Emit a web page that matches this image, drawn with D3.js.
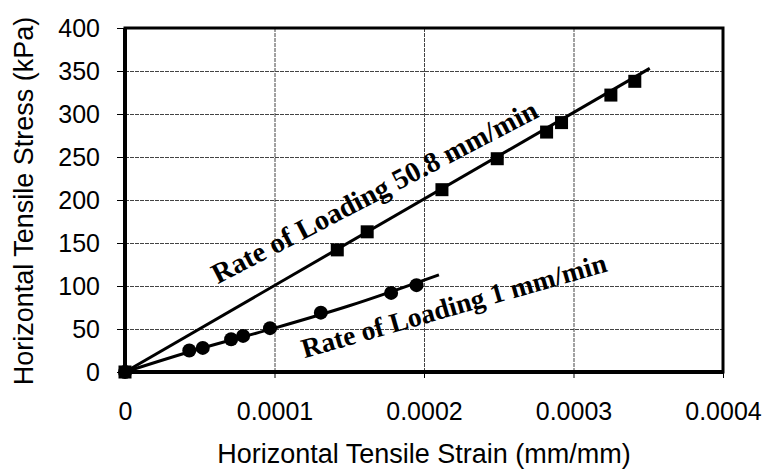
<!DOCTYPE html>
<html>
<head>
<meta charset="utf-8">
<script src="https://cdn.jsdelivr.net/npm/d3@7"></script>
<style>
    body { margin: 0; background: #fff; }
    .tick text { font-family: "Liberation Sans", Arial, sans-serif; fill: #000; }
    .axis_title { font-family: "Liberation Sans", Arial, sans-serif; font-size: 27px; fill: #000; }
    .rate_label { font-family: "Liberation Serif", "Times New Roman", serif; font-weight: bold; fill: #000; }
</style>
</head>
<body>
<div id="chart"></div>
<script>
// --- data ---
// Rate of Loading 50.8 mm/min (squares)
const strain50 = [0, 0.000142, 0.000162, 0.000212, 0.000249, 0.000282, 0.000292, 0.000325, 0.000341];
const stress50 = [0, 142, 163, 212, 248, 279, 290, 322, 338];
const lineStrain50 = [0, 0.000351];
const lineStress50 = [0, 353];

// Rate of Loading 1 mm/min (circles)
const strain1 = [0, 0.000043, 0.000052, 0.000071, 0.000079, 0.000097, 0.000131, 0.000178, 0.000195];
const stress1 = [0, 25, 28, 38, 42, 51, 69, 92, 101];
const lineStrain1 = [0, 0.00005, 0.0001, 0.00015, 0.00021];
const lineStress1 = [0, 27, 51, 77, 113];

const ticksX = [0, 0.0001, 0.0002, 0.0003, 0.0004];
const ticksY = [0, 50, 100, 150, 200, 250, 300, 350, 400];

const labelX = 'Horizontal Tensile Strain (mm/mm)';
const labelY = 'Horizontal Tensile Stress (kPa)';

// figure dimensions, margin = [top, bottom, left, right]
const width = 767, height = 474;
const margin = [28, 102, 125, 44];
const chartW = width - margin[2] - margin[3],
      chartH = height - margin[0] - margin[1];

const svg = d3.select('#chart')
    .append('svg')
    .attr('width', width)
    .attr('height', height);

const chart = svg.append('g')
    .attr('transform', `translate(${margin[2]},${margin[0]})`);

const scaleX = d3.scaleLinear([0, 0.0004], [0, chartW]);
const scaleY = d3.scaleLinear([0, 400], [chartH, 0]);

// gridlines
chart.append('g')
    .call(d3.axisLeft(scaleY).tickValues(ticksY).tickSize(-chartW).tickFormat(''))
    .call(g => g.select('.domain').remove())
    .selectAll('line')
    .attr('stroke', '#444')
    .attr('stroke-width', 1)
    .attr('stroke-dasharray', '4,1');

chart.append('g')
    .attr('transform', `translate(0,${chartH})`)
    .call(d3.axisBottom(scaleX).tickValues(ticksX).tickSize(-chartH).tickFormat(''))
    .call(g => g.select('.domain').remove())
    .selectAll('line')
    .attr('stroke', '#444')
    .attr('stroke-width', 1)
    .attr('stroke-dasharray', '4,1');

// axes with labels
const axisY = chart.append('g')
    .call(d3.axisLeft(scaleY).tickValues(ticksY).tickSize(8).tickPadding(17).tickFormat(d3.format('d')));
axisY.select('.domain').remove();
axisY.selectAll('text').style('font-size', '25px');

const axisX = chart.append('g')
    .attr('transform', `translate(0,${chartH})`)
    .call(d3.axisBottom(scaleX).tickValues(ticksX).tickSize(6).tickPadding(24)
        .tickFormat(d => d === 0 ? '0' : d.toFixed(4)));
axisX.select('.domain').remove();
axisX.selectAll('text').style('font-size', '25px');

// frame
chart.append('rect')
    .attr('width', chartW)
    .attr('height', chartH)
    .attr('fill', 'none')
    .attr('stroke', '#000')
    .attr('stroke-width', 3);
chart.append('line')
    .attr('x1', 0).attr('x2', 0).attr('y1', 0).attr('y2', chartH)
    .attr('stroke', '#000').attr('stroke-width', 4);
chart.append('line')
    .attr('x1', 0).attr('x2', chartW).attr('y1', chartH).attr('y2', chartH)
    .attr('stroke', '#000').attr('stroke-width', 4);

// lines
const line = d3.line()
    .x(d => scaleX(d[0]))
    .y(d => scaleY(d[1]))
    .curve(d3.curveMonotoneX);

chart.append('path')
    .datum(d3.zip(lineStrain1, lineStress1))
    .attr('d', line)
    .attr('fill', 'none')
    .attr('stroke', '#000')
    .attr('stroke-width', 3);

chart.append('path')
    .datum(d3.zip(lineStrain50, lineStress50))
    .attr('d', line)
    .attr('fill', 'none')
    .attr('stroke', '#000')
    .attr('stroke-width', 3);

// markers
chart.selectAll('circle.pt')
    .data(d3.zip(strain1, stress1))
    .join('circle')
    .classed('pt', true)
    .attr('cx', d => scaleX(d[0]))
    .attr('cy', d => scaleY(d[1]))
    .attr('r', 7)
    .attr('fill', '#000');

const sq = 13;
chart.selectAll('rect.pt')
    .data(d3.zip(strain50, stress50))
    .join('rect')
    .classed('pt', true)
    .attr('x', d => scaleX(d[0]) - sq / 2)
    .attr('y', d => scaleY(d[1]) - sq / 2)
    .attr('width', sq)
    .attr('height', sq)
    .attr('fill', '#000');

// line labels (position in data units)
chart.append('text')
    .classed('rate_label', true)
    .style('font-size', '28.5px')
    .attr('transform', `translate(${scaleX(0.000062)},${scaleY(102)}) rotate(-27.5)`)
    .text('Rate of Loading 50.8 mm/min');

chart.append('text')
    .classed('rate_label', true)
    .style('font-size', '27.5px')
    .attr('transform', `translate(${scaleX(0.000120)},${scaleY(16)}) rotate(-16)`)
    .text('Rate of Loading 1 mm/min');

// axis titles
svg.append('text')
    .classed('axis_title', true)
    .attr('x', 424)
    .attr('y', 463)
    .attr('text-anchor', 'middle')
    .text(labelX);

svg.append('text')
    .classed('axis_title', true)
    .attr('transform', `translate(33,201)rotate(-90)`)
    .attr('text-anchor', 'middle')
    .text(labelY);
</script>
</body>
</html>
